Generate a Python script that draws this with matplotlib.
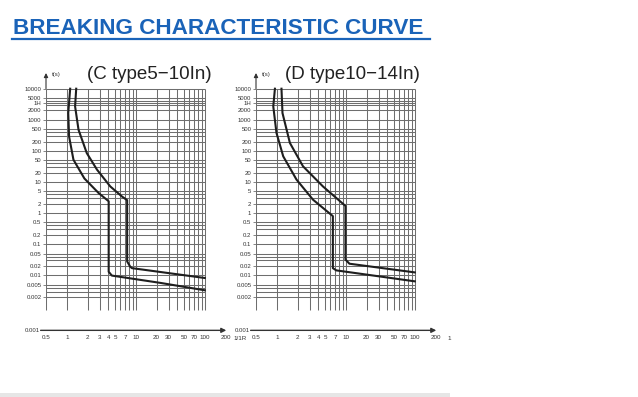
import numpy as np
import matplotlib
matplotlib.use('Agg')
import matplotlib.pyplot as plt
from matplotlib import font_manager
from matplotlib.lines import Line2D
from matplotlib.patches import Rectangle
from matplotlib.ticker import NullLocator

plt.rcParams['font.family'] = ['Liberation Sans', 'DejaVu Sans']

# ---- data (x = I/In, t in seconds) ----
c_low_x = [1.12, 1.05, 1.08, 1.25, 1.8, 2.9, 4.05, 4.05, 4.5, 22.8, 100]
c_low_t = [10000, 1650, 290, 52, 13, 4.4, 2.4, 0.013, 0.0098, 0.0057, 0.0033]
c_up_x = [1.37, 1.32, 1.48, 1.95, 2.74, 4.27, 6.33, 7.5, 7.5, 8.3, 8.8, 100]
c_up_t = [10000, 2700, 480, 85, 25, 7.2, 3.4, 2.6, 0.028, 0.019, 0.017, 0.0082]

d_low_x = [0.94, 0.89, 0.99, 1.24, 1.93, 3.35, 6.5, 6.5, 7.3, 100]
d_low_t = [10000, 2700, 380, 67, 12, 2.7, 0.8, 0.017, 0.0144, 0.0064]
d_up_x = [1.17, 1.21, 1.55, 2.4, 4.67, 9.9, 9.9, 11.3, 100]
d_up_t = [10000, 1650, 180, 32, 7.2, 1.7, 0.032, 0.0236, 0.0124]

x_ticks = [0.5, 1, 2, 3, 4, 5, 7, 10, 20, 30, 50, 70, 100, 200]
x_labels = ['0.5', '1', '2', '3', '4', '5', '7', '10', '20', '30', '50', '70', '100', '200']
t_ticks = [10000, 5000, 3600, 2000, 1000, 500, 200, 100, 50, 20, 10, 5, 2, 1,
           0.5, 0.2, 0.1, 0.05, 0.02, 0.01, 0.005, 0.002]
t_labels = ['10000', '5000', '1H', '2000', '1000', '500', '200', '100', '50', '20', '10', '5', '2', '1',
            '0.5', '0.2', '0.1', '0.05', '0.02', '0.01', '0.005', '0.002']

grid_x = [0.5, 1, 2, 3, 4, 5, 6, 7, 8, 9, 10, 20, 30, 40, 50, 60, 70, 80, 90, 100]
grid_t = [m * 10.0 ** e for e in range(-3, 4) for m in (1, 2, 3, 4, 5)
          if 0.002 <= m * 10.0 ** e <= 5000] + [3600, 10000]

W, H = 638, 397
PX_DEC_X = 69.0
PX_DEC_Y = 31.1
XLIM = (0.5, 205)
YLIM = (1.7e-4, 3.2e4)
GRID_BOTTOM = 7.8e-4
BLUE = '#1a63b8'
INK = '#1e1e1e'
GRIDC = '#6e6e6e'

fig = plt.figure(figsize=(W / 100, H / 100), dpi=100)


def chart(left_px, top_px, title, title_x, lo_x, lo_t, up_x, up_t):
    w = PX_DEC_X * np.log10(XLIM[1] / XLIM[0])
    h = PX_DEC_Y * np.log10(YLIM[1] / YLIM[0])
    ax = fig.add_axes([left_px / W, 1 - (top_px + h) / H, w / W, h / H])
    ax.set_xscale('log')
    ax.set_yscale('log')
    ax.set_xlim(*XLIM)
    ax.set_ylim(*YLIM)
    ax.patch.set_alpha(0)

    ax.hlines(grid_t, 0.5, 100, color=GRIDC, lw=0.75)
    ax.vlines(grid_x, GRID_BOTTOM, 10000, color=GRIDC, lw=0.75)

    ax.plot(lo_x, lo_t, color=INK, lw=1.5, solid_joinstyle='round')
    ax.plot(up_x, up_t, color=INK, lw=1.5, solid_joinstyle='round')

    for s in ax.spines.values():
        s.set_visible(False)

    # axis arrows
    ax.annotate('', xy=(1, 0), xytext=(-0.03, 0), xycoords='axes fraction',
                arrowprops=dict(arrowstyle='-|>', color='#333333', lw=1.0,
                                mutation_scale=7, shrinkA=0, shrinkB=0))
    ax.annotate('', xy=(0.5, YLIM[1]), xytext=(0.5, 10000), xycoords='data',
                arrowprops=dict(arrowstyle='-|>', color='#333333', lw=0.8,
                                mutation_scale=6, shrinkA=0, shrinkB=0))
    ax.annotate('t(s)', xy=(0, 1), xycoords='axes fraction', xytext=(4, -1),
                textcoords='offset points', va='center', ha='left',
                fontsize=4.3, color='#333333')
    ax.annotate('0.001', xy=(0, 0), xycoords='axes fraction', xytext=(-4.5, 0),
                textcoords='offset points', va='center', ha='right',
                fontsize=4.3, color='#333333')

    ax.set_xticks(x_ticks, x_labels)
    ax.set_yticks(t_ticks, t_labels)
    ax.xaxis.set_minor_locator(NullLocator())
    ax.yaxis.set_minor_locator(NullLocator())
    ax.tick_params(axis='x', length=0, pad=3, labelsize=4.5, labelcolor='#333333')
    ax.tick_params(axis='y', length=2.5, width=0.5, color='#555555', pad=0.8,
                   labelsize=4.3, labelcolor='#333333')

    fig.text(title_x / W, 1 - 79 / H, title, ha='center', va='baseline',
             fontsize=13.5, color='#222222')
    return ax


ax1 = chart(46, 73, '(C type5\u221210In)', 149, c_low_x, c_low_t, c_up_x, c_up_t)
ax2 = chart(256, 73, '(D type10\u221214In)', 352, d_low_x, d_low_t, d_up_x, d_up_t)

fig.text(240 / W, 1 - 338 / H, '1/1R', ha='center', va='center', fontsize=4.5, color='#333333')
fig.text(449 / W, 1 - 338 / H, '1', ha='center', va='center', fontsize=4.5, color='#333333')

# heading: narrow bold face if there is one, else plain bold a bit smaller
names = {f.name for f in font_manager.fontManager.ttflist}
if 'Liberation Sans Narrow' in names:
    head_family, head_size = ['Liberation Sans Narrow', 'DejaVu Sans'], 18.4
else:
    head_family, head_size = ['Liberation Sans', 'DejaVu Sans'], 16.2
fig.text(13 / W, 1 - 33.5 / H, 'BREAKING CHARACTERISTIC CURVE',
         family=head_family, fontweight='bold', fontsize=head_size,
         color=BLUE, ha='left', va='baseline')
fig.add_artist(Line2D([12 / W, 430 / W], [1 - 38.5 / H, 1 - 38.5 / H],
                      color=BLUE, lw=1.6))

# grey strip at the bottom
fig.add_artist(Rectangle((0, 0), 450 / W, 4.5 / H, color='#e6e6e6', lw=0))

fig.savefig('out.png', dpi=100)
